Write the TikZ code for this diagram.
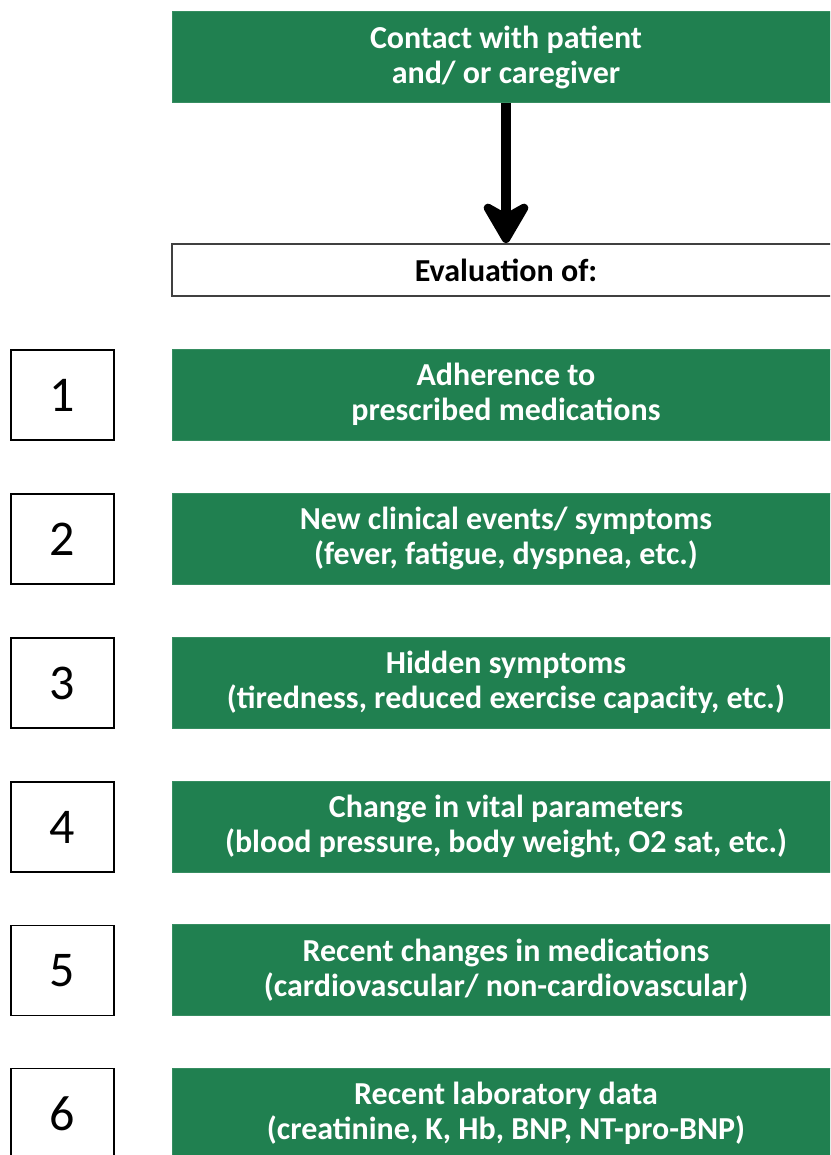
\documentclass[tikz,border=0pt]{standalone}
\usepackage{fontspec}
\setmainfont{Carlito}
\usetikzlibrary{arrows.meta}
\definecolor{boxgreen}{HTML}{208050}
\definecolor{evalgray}{HTML}{404040}
\begin{document}
\begin{tikzpicture}[x=1pt,y=-1pt,
  greenbox/.style={fill=boxgreen,draw=boxgreen!90!white,line width=1pt,minimum width=668pt,minimum height=91pt,
    text=white,font=\fontsize{32}{35}\selectfont\bfseries,align=center,inner sep=0pt},
  evalbox/.style={fill=white,draw=evalgray,line width=2pt,minimum width=668pt,minimum height=52pt,
    font=\fontsize{32}{35}\selectfont\bfseries,inner sep=0pt},
  numbox/.style={fill=white,draw=black,line width=1.5pt,minimum width=103pt,minimum height=90pt,
    font=\fontsize{50}{60}\selectfont,inner sep=0pt},
  bigarrow/.style={line width=10pt,-{Stealth[length=50pt,width=58pt,inset=16pt,round]}}]
\useasboundingbox (0,0) rectangle (830,1155);
\clip (0,0) rectangle (830,1155);
\node[greenbox] (contact) at (506,57.5) {Contact with patient\\and/ or caregiver};
\node[evalbox] (eval) at (506,270) {Evaluation of:};
\draw[bigarrow] (contact.south) -- (eval.north);

\node[numbox] (n1) at (62.5,395) {1};
\node[greenbox] (g1) at (506,394.5) {Adherence to\\prescribed medications};
\node[numbox] (n2) at (62.5,539) {2};
\node[greenbox] (g2) at (506,538.5) {New clinical events/ symptoms\\(fever, fatigue, dyspnea, etc.)};
\node[numbox] (n3) at (62.5,683) {3};
\node[greenbox] (g3) at (506,682.5) {Hidden symptoms\\(tiredness, reduced exercise capacity, etc.)};
\node[numbox] (n4) at (62.5,827) {4};
\node[greenbox] (g4) at (506,826.5) {Change in vital parameters\\(blood pressure, body weight, O2 sat, etc.)};
\node[numbox] (n5) at (62.5,970.5) {5};
\node[greenbox] (g5) at (506,970) {Recent changes in medications\\(cardiovascular/ non-cardiovascular)};
\node[numbox] (n6) at (62.5,1113.5) {6};
\node[greenbox] (g6) at (506,1113.5) {Recent laboratory data\\(creatinine, K, Hb, BNP, NT-pro-BNP)};
\end{tikzpicture}
\end{document}
